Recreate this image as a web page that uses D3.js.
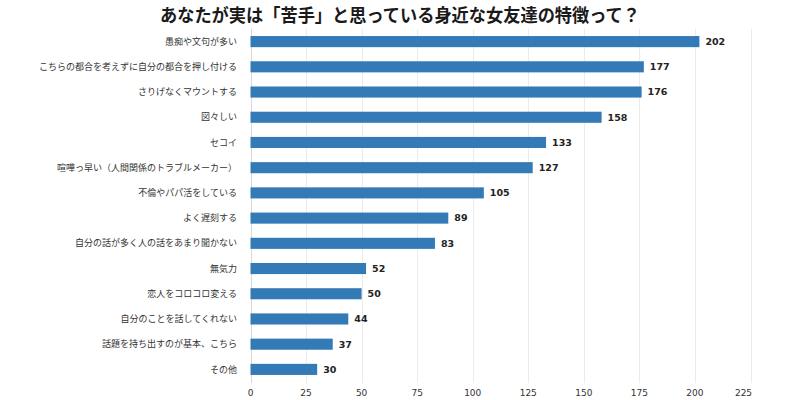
<!DOCTYPE html>
<html><head><meta charset="utf-8">
<script src="https://cdn.jsdelivr.net/npm/d3@7"></script>
<style>body{margin:0;background:#fff;} svg{display:block;}</style>
</head><body>
<svg id="c" width="800" height="400"></svg>
<script>
const title = "あなたが実は「苦手」と思っている身近な女友達の特徴って？";
const categories = ["愚痴や文句が多い","こちらの都合を考えずに自分の都合を押し付ける","さりげなくマウントする","図々しい","セコイ","喧嘩っ早い（人間関係のトラブルメーカー）","不倫やパパ活をしている","よく遅刻する","自分の話が多く人の話をあまり聞かない","無気力","恋人をコロコロ変える","自分のことを話してくれない","話題を持ち出すのが基本、こちら","その他"];
const values = [202,177,176,158,133,127,105,89,83,52,50,44,37,30];
const ticks = [0,25,50,75,100,125,150,175,200,225];

const svg = d3.select("#c");
const font = "'Noto Sans CJK JP','Noto Sans',sans-serif";
const x = d3.scaleLinear().domain([0,225]).range([250.5,750.5]);
const y = d3.scaleBand().domain(categories).range([29,382]).paddingInner(0.56).paddingOuter(0.28);

svg.append("text").attr("x",400).attr("y",22).attr("text-anchor","middle")
  .attr("font-family",font).attr("font-weight","bold").attr("font-size",18)
  .attr("fill","#1a1a1a").attr("textLength",480).attr("lengthAdjust","spacingAndGlyphs").text(title);

const g = svg.append("g");
g.selectAll("line.grid").data(ticks).join("line").attr("class","grid")
  .attr("x1",d=>Math.round(x(d))+0.5).attr("x2",d=>Math.round(x(d))+0.5).attr("y1",29).attr("y2",383)
  .attr("stroke",d=>d===0?"#d8d8d8":"#ebebeb").attr("stroke-width",1);

g.selectAll("rect").data(values).join("rect")
  .attr("x",x(0)).attr("y",(d,i)=>y(categories[i])).attr("height",y.bandwidth())
  .attr("width",d=>x(d)-x(0)).attr("fill","#337ab7");

g.selectAll("text.val").data(values).join("text").attr("class","val")
  .attr("x",d=>x(d)+6).attr("y",(d,i)=>y(categories[i])+y.bandwidth()/2).attr("dy","0.35em")
  .attr("font-family","'DejaVu Sans',sans-serif").attr("font-weight","bold").attr("font-size",9.5)
  .attr("fill","#222").text(d=>d);

g.selectAll("text.cat").data(categories).join("text").attr("class","cat")
  .attr("x",237).attr("y",d=>y(d)+y.bandwidth()/2).attr("dy","0.35em").attr("text-anchor","end")
  .attr("font-family",font).attr("font-size",9).attr("fill","#333").text(d=>d);

g.selectAll("text.tick").data(ticks).join("text").attr("class","tick")
  .attr("x",(d,i)=>i===ticks.length-1?x(d)-7:x(d)).attr("y",396).attr("text-anchor","middle")
  .attr("font-family","'DejaVu Sans',sans-serif").attr("font-size",9).attr("fill","#333").text(d=>d);
</script>
</body></html>
